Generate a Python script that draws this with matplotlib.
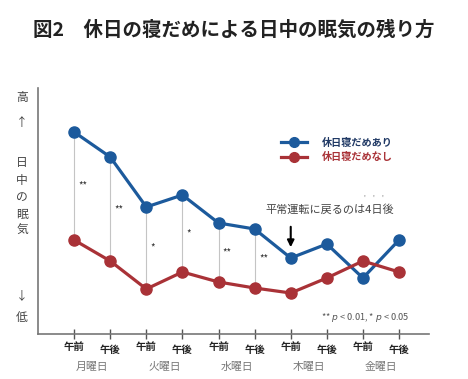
import matplotlib
matplotlib.use('Agg')
import matplotlib.pyplot as plt
import matplotlib.transforms as mtransforms
from matplotlib.lines import Line2D
import numpy as np

plt.rcParams['font.family'] = ['Noto Sans CJK JP', 'DejaVu Sans']

# data (arbitrary sleepiness units)
slots = ['午前', '午後'] * 5
days = ['月曜日', '火曜日', '水曜日', '木曜日', '金曜日']
with_catchup = [202, 177, 127, 139, 111, 105, 76, 90, 56, 94]
without_catchup = [94, 73, 45, 62, 52, 46, 41, 56, 73, 62]
signif = ['**', '**', '*', '*', '**', '**']

blue = '#1c5a9c'
red = '#a93237'

fig = plt.figure(figsize=(4.68, 3.79), dpi=100)
ax = fig.add_axes([38/468, 45/379, (429-38)/468, (334-88)/379])

x = np.arange(len(slots))

# significance connectors
for i, s in enumerate(signif):
    ax.plot([x[i], x[i]], [with_catchup[i]-6, without_catchup[i]+6], color='#c4c4c4', lw=0.8, zorder=1)
    ax.text(x[i]+0.12, (with_catchup[i]+without_catchup[i])/2, s, fontsize=7,
            color='#333333', ha='left', va='center')

ax.plot(x, with_catchup, color=blue, lw=2.3, marker='o', ms=8, zorder=3)
ax.plot(x, without_catchup, color=red, lw=2.3, marker='o', ms=8, zorder=3)

ax.set_xlim(-1, 9.83)
ax.set_ylim(0, 246)

for sp in ['top', 'right']:
    ax.spines[sp].set_visible(False)
ax.spines['left'].set_color('#777777')
ax.spines['bottom'].set_color('#777777')
ax.spines['left'].set_linewidth(1.2)
ax.spines['bottom'].set_linewidth(1.2)
ax.set_yticks([])

ax.set_xticks(x)
ax.set_xticklabels(slots, fontsize=7.5, fontweight='bold', color='#222222')
ax.tick_params(axis='x', which='major', direction='inout', length=7, width=1,
               color='#555555', pad=2)
for i, lab in enumerate(ax.get_xticklabels()):
    if i % 2 == 1:
        lab.set_transform(lab.get_transform() +
                          mtransforms.ScaledTranslation(0, -3/100, fig.dpi_scale_trans))

ax.set_xticks(x[::2] + 0.5, minor=True)
ax.set_xticklabels(days, minor=True, fontsize=7.8, color='#777777')
ax.tick_params(axis='x', which='minor', length=0, pad=20)

# vertical y label
ylab = [('高', 0.744), ('↑', 0.676), ('日', 0.570), ('中', 0.525), ('の', 0.480),
        ('眠', 0.435), ('気', 0.393), ('↓', 0.221), ('低', 0.161)]
for ch, yy in ylab:
    fig.text(22/468, yy, ch, fontsize=8.5, color='#444444', ha='center', va='center')

fig.text(0.5, 1-30/379, '図2　休日の寝だめによる日中の眠気の残り方', fontsize=14,
         fontweight='bold', color='#222222', ha='center', va='center')

# legend
handles = [Line2D([], [], color=blue, lw=2.3, marker='o', ms=7),
           Line2D([], [], color=red, lw=2.3, marker='o', ms=7)]
leg = ax.legend(handles, ['休日寝だめあり', '休日寝だめなし'], loc='center left',
                bbox_to_anchor=(276/468, 1-150/379), bbox_transform=fig.transFigure,
                frameon=False, fontsize=7.3, handlelength=2.6, handletextpad=1.4,
                labelspacing=0.45, borderpad=0)
leg.get_texts()[0].set_color('#1f3864')
leg.get_texts()[1].set_color(red)
for t in leg.get_texts():
    t.set_fontweight('bold')

# annotation
ax.annotate('', xy=(6, 84), xytext=(6, 110),
            arrowprops=dict(arrowstyle='-|>', color='black', lw=1.5, mutation_scale=10))
ann = ax.text(7.09, 125, '平常運転に戻るのは4日後', fontsize=8, color='#444444',
              ha='center', va='center')
for dx in [8.05, 8.28, 8.53]:
    ax.text(dx, 135, "'", fontsize=4.5, color='#666666', ha='center', va='center')

ax.text(9.3, 17, r'** $p$ < 0.01, * $p$ < 0.05', fontsize=6.6, color='#555555',
        ha='right', va='center')

fig.savefig('out.png', dpi=100)
